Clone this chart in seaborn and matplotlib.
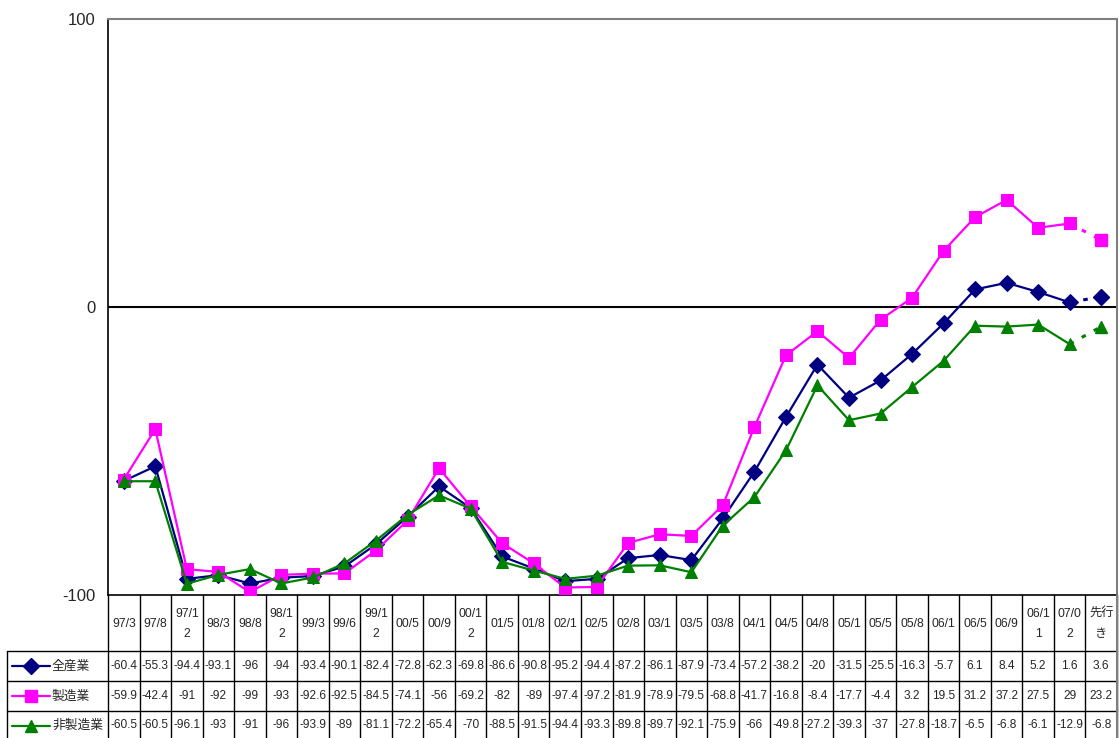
import numpy as np
import pandas as pd
import matplotlib
matplotlib.use("Agg")
import matplotlib.pyplot as plt
import seaborn as sns

# data
periods = ["97/3", "97/8", "97/1\n2", "98/3", "98/8", "98/1\n2", "99/3", "99/6", "99/1\n2",
           "00/5", "00/9", "00/1\n2", "01/5", "01/8", "02/1", "02/5", "02/8", "03/1", "03/5",
           "03/8", "04/1", "04/5", "04/8", "05/1", "05/5", "05/8", "06/1", "06/5", "06/9",
           "06/1\n1", "07/0\n2", "先行\nき"]
all_ind = [-60.4, -55.3, -94.4, -93.1, -96, -94, -93.4, -90.1, -82.4, -72.8, -62.3, -69.8,
           -86.6, -90.8, -95.2, -94.4, -87.2, -86.1, -87.9, -73.4, -57.2, -38.2, -20, -31.5,
           -25.5, -16.3, -5.7, 6.1, 8.4, 5.2, 1.6, 3.6]
manuf = [-59.9, -42.4, -91, -92, -99, -93, -92.6, -92.5, -84.5, -74.1, -56, -69.2,
         -82, -89, -97.4, -97.2, -81.9, -78.9, -79.5, -68.8, -41.7, -16.8, -8.4, -17.7,
         -4.4, 3.2, 19.5, 31.2, 37.2, 27.5, 29, 23.2]
non_manuf = [-60.5, -60.5, -96.1, -93, -91, -96, -93.9, -89, -81.1, -72.2, -65.4, -70,
             -88.5, -91.5, -94.4, -93.3, -89.8, -89.7, -92.1, -75.9, -66, -49.8, -27.2, -39.3,
             -37, -27.8, -18.7, -6.5, -6.8, -6.1, -12.9, -6.8]
series_names = ["全産業", "製造業", "非製造業"]

sns.set_style("white")
plt.rcParams['font.family'] = ['Liberation Sans', 'Noto Sans CJK JP', 'DejaVu Sans']

W, H = 1119, 738
fig = plt.figure(figsize=(W / 100, H / 100), dpi=100)

left, right, top, bottom = 108, 1117, 19, 595
ax = fig.add_axes([left / W, 1 - bottom / H, (right - left) / W, (bottom - top) / H])

n = len(periods)
x = np.arange(n)
styles = [
    (all_ind, "#000080", "D", 8),
    (manuf, "#FF00FF", "s", 8),
    (non_manuf, "#008000", "^", 9),
]
for name, (vals, col, mk, ms) in zip(series_names, styles):
    df = pd.DataFrame({"x": x[:-1], "y": vals[:-1]})
    sns.lineplot(data=df, x="x", y="y", ax=ax, color=col, marker=mk, markersize=ms,
                 markeredgecolor=col, linewidth=1.6, zorder=3)
    ax.plot(x[-2:], vals[-2:], color=col, linestyle=(0, (1.5, 3)), linewidth=2.2, zorder=3)
    ax.plot(x[-1:], vals[-1:], color=col, marker=mk, markersize=ms, linestyle="none", zorder=4)

ax.axhline(0, color="black", linewidth=1.5, zorder=2)
ax.set_xlim(-0.5, n - 0.5)
ax.set_ylim(-100, 100)
ax.set_yticks([-100, 0, 100])
ax.set_yticklabels(["-100", "0", "100"], fontsize=12)
ax.set_xticks([])
ax.set_xlabel("")
ax.set_ylabel("")
ax.tick_params(axis="y", length=0, pad=9)
for s in ["top", "right"]:
    ax.spines[s].set_color("#808080")
    ax.spines[s].set_linewidth(1.5)
ax.spines["left"].set_color("black")
ax.spines["bottom"].set_color("black")
ax.spines["left"].set_linewidth(1.2)
ax.spines["bottom"].set_linewidth(1.2)

# data table below the plot, in pixel coordinates
tab = fig.add_axes([0, 0, 1, 1])
tab.set_xlim(0, W)
tab.set_ylim(H, 0)
tab.axis("off")
tab.patch.set_alpha(0)

colw = (right - left) / n
rows_y = [595, 651, 681, 711, 740]
lc = "black"
for i in range(n + 1):
    xx = left + i * colw
    tab.plot([xx, xx], [rows_y[0], rows_y[-1]], color=lc, linewidth=1)
tab.plot([7, right], [rows_y[1], rows_y[1]], color=lc, linewidth=1)
for yy in rows_y[2:4]:
    tab.plot([7, right], [yy, yy], color=lc, linewidth=1)
tab.plot([7, 7], [rows_y[1], rows_y[-1]], color=lc, linewidth=1)
tab.plot([right, right], [rows_y[0], rows_y[-1]], color="#808080", linewidth=1.5)

for i, lab in enumerate(periods):
    cx = left + (i + 0.5) * colw
    tab.text(cx, (rows_y[0] + rows_y[1]) / 2 + 1, lab, ha="center", va="center",
             fontsize=8.8, linespacing=1.9)

for r, (name, (vals, col, mk, ms)) in enumerate(zip(series_names, styles)):
    cy = (rows_y[r + 1] + rows_y[r + 2]) / 2
    tab.plot([12, 50], [cy, cy], color=col, linewidth=1.6)
    tab.plot([31], [cy], color=col, marker=mk, markersize=ms, markeredgecolor=col)
    tab.text(52, cy, name, ha="left", va="center", fontsize=9.2,
             family=['Noto Sans CJK JP', 'DejaVu Sans'])
    for i, v in enumerate(vals):
        cx = left + (i + 0.5) * colw
        tab.text(cx, cy, f"{v:g}", ha="center", va="center", fontsize=8.6)

fig.savefig("out.png", dpi=100)
